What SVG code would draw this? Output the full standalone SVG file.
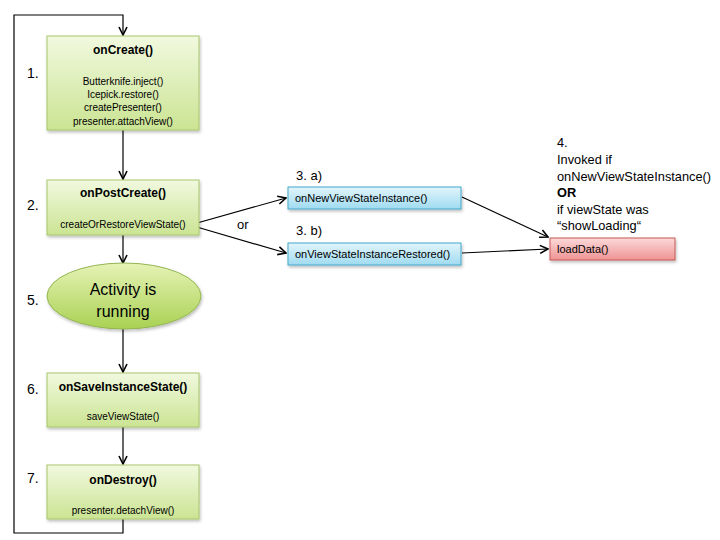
<svg xmlns="http://www.w3.org/2000/svg" width="720" height="540" viewBox="0 0 720 540">
<style>
text{font-family:"Liberation Sans",Arial,sans-serif;fill:#000}
.t{font-size:12px;font-weight:bold;text-anchor:middle}
.b{font-size:10px;text-anchor:middle}
.n{font-size:14px}
.s{font-size:11px}
.g{fill:url(#gg);stroke:#a9c56b;stroke-width:1}
.bl{fill:url(#gb);stroke:#45a7c9;stroke-width:1}
.rd{fill:url(#gr);stroke:#c55a57;stroke-width:1}
.c{fill:none;stroke:#000;stroke-width:1.2}
</style>
<defs>
<linearGradient id="gg" x1="0" y1="0" x2="0" y2="1"><stop offset="0" stop-color="#f1f9df"/><stop offset="1" stop-color="#cbe493"/></linearGradient>
<linearGradient id="ge" x1="0" y1="0" x2="0" y2="1"><stop offset="0" stop-color="#e6f3b6"/><stop offset="1" stop-color="#a9d153"/></linearGradient>
<linearGradient id="gb" x1="0" y1="0" x2="0" y2="1"><stop offset="0" stop-color="#e2f5fc"/><stop offset="1" stop-color="#9fdbf1"/></linearGradient>
<linearGradient id="gr" x1="0" y1="0" x2="0" y2="1"><stop offset="0" stop-color="#fcd9d9"/><stop offset="1" stop-color="#ef9393"/></linearGradient>
<filter id="sh" x="-10%" y="-10%" width="130%" height="140%"><feDropShadow dx="1" dy="2" stdDeviation="1.5" flood-color="#000" flood-opacity="0.25"/></filter>
<marker id="a" viewBox="0 0 10 10" refX="9" refY="5" markerWidth="10" markerHeight="10" markerUnits="userSpaceOnUse" orient="auto"><path d="M1,1 L9,5 L1,9" fill="none" stroke="#000" stroke-width="1.6"/></marker>
</defs>
<g id="connectors">
<polyline class="c" points="123,519 123,533 14,533 14,15 123,15 123,35" marker-end="url(#a)"/>
<line class="c" x1="123" y1="130" x2="123" y2="179" marker-end="url(#a)"/>
<line class="c" x1="123" y1="235" x2="123" y2="263" marker-end="url(#a)"/>
<line class="c" x1="123" y1="329" x2="123" y2="372" marker-end="url(#a)"/>
<line class="c" x1="123" y1="427" x2="123" y2="464" marker-end="url(#a)"/>
<line class="c" x1="190" y1="225" x2="286" y2="198" marker-end="url(#a)"/>
<line class="c" x1="190" y1="225" x2="286" y2="253" marker-end="url(#a)"/>
<line class="c" x1="462" y1="197" x2="548" y2="237" marker-end="url(#a)"/>
<line class="c" x1="462" y1="253" x2="548" y2="249" marker-end="url(#a)"/>
</g>
<g id="onCreate">
<rect class="g" x="47" y="36" width="152" height="94" filter="url(#sh)"/>
<text class="t" x="123" y="54">onCreate()</text>
<text class="b" x="123" y="85">Butterknife.inject()</text>
<text class="b" x="123" y="98">Icepick.restore()</text>
<text class="b" x="123" y="111">createPresenter()</text>
<text class="b" x="123" y="125">presenter.attachView()</text>
<text class="n" x="27" y="78">1.</text>
</g>
<g id="onPostCreate">
<rect class="g" x="47" y="180" width="152" height="55" filter="url(#sh)"/>
<text class="t" x="123" y="197">onPostCreate()</text>
<text class="b" x="123" y="228">createOrRestoreViewState()</text>
<text class="n" x="27" y="210">2.</text>
</g>
<g id="running">
<ellipse cx="124" cy="296" rx="77" ry="33" fill="url(#ge)" stroke="#93b552" filter="url(#sh)"/>
<text x="123" y="295" style="font-size:16px;text-anchor:middle">Activity is</text>
<text x="123" y="317" style="font-size:16px;text-anchor:middle">running</text>
<text class="n" x="27" y="305">5.</text>
</g>
<g id="onSaveInstanceState">
<rect class="g" x="47" y="373" width="152" height="54" filter="url(#sh)"/>
<text class="t" x="123" y="391">onSaveInstanceState()</text>
<text class="b" x="123" y="420">saveViewState()</text>
<text class="n" x="27" y="394">6.</text>
</g>
<g id="onDestroy">
<rect class="g" x="47" y="465" width="152" height="54" filter="url(#sh)"/>
<text class="t" x="123" y="484">onDestroy()</text>
<text class="b" x="123" y="514">presenter.detachView()</text>
<text class="n" x="27" y="483">7.</text>
</g>
<g id="onNewViewStateInstance">
<rect class="bl" x="288" y="187" width="173" height="22" filter="url(#sh)"/>
<text class="s" x="295" y="202">onNewViewStateInstance()</text>
<text x="296" y="180" style="font-size:13px">3. a)</text>
</g>
<g id="onViewStateInstanceRestored">
<rect class="bl" x="288" y="243" width="173" height="22" filter="url(#sh)"/>
<text class="s" x="295" y="258">onViewStateInstanceRestored()</text>
<text x="296" y="235" style="font-size:13px">3. b)</text>
</g>
<text x="237" y="229" style="font-size:13px">or</text>
<g id="loadData">
<rect class="rd" x="550" y="238" width="125" height="22" filter="url(#sh)"/>
<text class="s" x="557" y="253">loadData()</text>
<text x="557" y="147" style="font-size:12.8px">4.</text>
<text x="557" y="164" style="font-size:12.8px">Invoked if</text>
<text x="557" y="181" style="font-size:12.8px">onNewViewStateInstance()</text>
<text x="557" y="197" style="font-size:12.8px;font-weight:bold">OR</text>
<text x="557" y="214" style="font-size:12.8px">if viewState was</text>
<text x="557" y="230" style="font-size:12.8px">“showLoading“</text>
</g>
</svg>
